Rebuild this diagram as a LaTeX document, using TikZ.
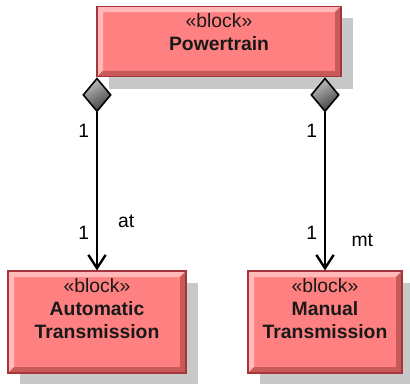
\documentclass[tikz,border=0pt]{standalone}
\usepackage{fontspec}
\setmainfont{Liberation Sans}
\usetikzlibrary{arrows.meta,shapes.geometric,shadows,calc,positioning}

\definecolor{blockfill}{RGB}{255,128,128}
\definecolor{blockline}{RGB}{165,55,60}
\definecolor{blocklight}{RGB}{255,185,185}
\definecolor{blockdark}{RGB}{200,90,90}
\definecolor{shadowgray}{RGB}{200,200,200}

\tikzset{
  block/.style={draw=blockline, line width=0.9pt, fill=blockfill, inner sep=0pt,
    drop shadow={shadow xshift=9pt, shadow yshift=-9pt, fill=shadowgray, opacity=1},
    path picture={
      \coordinate (nw) at (path picture bounding box.north west);
      \coordinate (ne) at (path picture bounding box.north east);
      \coordinate (sw) at (path picture bounding box.south west);
      \coordinate (se) at (path picture bounding box.south east);
      \fill[blocklight] (nw) -- (ne) -- ($(ne)+(-6,6)$) -- ($(nw)+(6,6)$) -- ($(sw)+(6,-6)$) -- (sw) -- cycle;
      \fill[blockdark] (ne) -- (se) -- (sw) -- ($(sw)+(6,-6)$) -- ($(se)+(-6,-6)$) -- ($(ne)+(-6,6)$) -- cycle;
    }},
  blocktext/.style={anchor=north, align=center, inner sep=5.5pt, text=black!90,
    font=\fontsize{14.5}{17.6}\selectfont},
  aggr/.style={diamond, draw=black, line width=1.2pt, inner sep=0pt, anchor=north,
    minimum width=21pt, minimum height=25pt, top color=black!25, bottom color=black!75,
    shading angle=30},
  assoc/.style={line width=1.8pt, -{Straight Barb[length=10pt,width=13pt]}},
  mult/.style={inner sep=1pt, font=\fontsize{14.5}{17}\selectfont},
}

\begin{document}
\begin{tikzpicture}[x=0.75pt,y=-0.75pt]
    \useasboundingbox (0,0) rectangle (410,383);

    % blocks
    \node[block, minimum width=183pt, minimum height=53pt,
          label={[blocktext]north:«block»\\\textbf{Powertrain}}] (pt) at (219,41.5) {};
    \node[block, minimum width=133.5pt, minimum height=76.5pt,
          label={[blocktext]north:«block»\\\textbf{Automatic}\\\textbf{Transmission}}] (at) at (97,322) {};
    \node[block, minimum width=115.5pt, minimum height=76.5pt,
          label={[blocktext]north:«block»\\\textbf{Manual}\\\textbf{Transmission}}] (mt) at (325,322) {};

    % composite ends
    \node[aggr] (dat) at (pt.south -| at.north) {};
    \node[aggr] (dmt) at (pt.south -| mt.north) {};

    % parts
    \draw[assoc] (dat.south) -- node[mult, pos=0.12, left=4pt] {1}
                                node[mult, pos=0.76, left=4pt] {1}
                                node[mult, pos=0.69, right=14pt] {at} (at.north);
    \draw[assoc] (dmt.south) -- node[mult, pos=0.12, left=4pt] {1}
                                node[mult, pos=0.76, left=4pt] {1}
                                node[mult, pos=0.81, right=18pt] {mt} (mt.north);

\end{tikzpicture}
\end{document}
